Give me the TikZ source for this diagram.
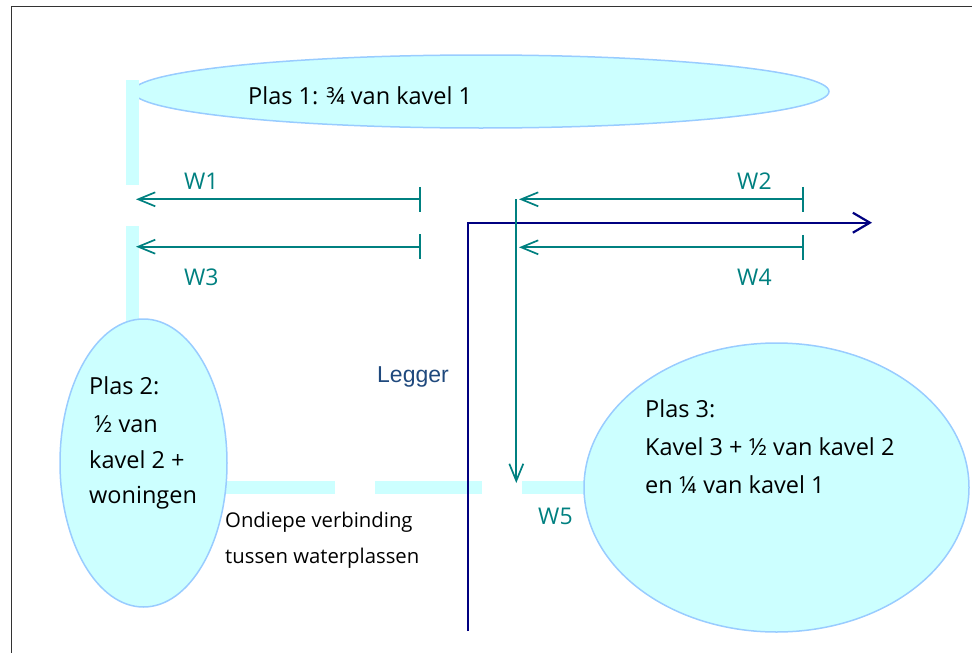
\documentclass[tikz,border=0pt]{standalone}
\usepackage{fontspec}
\setmainfont{Open Sans}
\newfontfamily\leggerfont{Liberation Sans}
\usetikzlibrary{shapes.geometric,arrows.meta}
\definecolor{lakefill}{RGB}{204,255,255}
\definecolor{lakeline}{RGB}{153,204,255}
\definecolor{tealc}{RGB}{0,128,128}
\definecolor{navyc}{RGB}{0,0,128}
\definecolor{leggerc}{RGB}{31,73,125}
\definecolor{framec}{RGB}{51,51,51}
\tikzset{
  lake/.style={ellipse, fill=lakefill, draw=lakeline, line width=1.5pt, inner sep=0pt},
  bar/.style={fill=lakefill, draw=none},
  txt/.style={anchor=base west, inner sep=0pt, font=\fontsize{23.5}{28}\selectfont},
  smalltxt/.style={anchor=base west, inner sep=0pt, font=\fontsize{20.3}{24}\selectfont},
  wlabel/.style={anchor=base west, inner sep=0pt, text=tealc, font=\fontsize{23}{27}\selectfont},
  measure/.style={draw=tealc, line width=1.7pt, {Bar[width=25pt,line width=1.7pt]}-{Straight Barb[length=17pt,width=14pt,line width=1.7pt]}},
  downarr/.style={draw=tealc, line width=1.7pt, -{Straight Barb[length=17pt,width=14pt,line width=1.7pt]}},
  legger/.style={draw=navyc, line width=2.2pt, -{Straight Barb[length=17pt,width=20pt,line width=2.2pt]}}
}
\begin{document}
\begin{tikzpicture}[x=1pt,y=-1pt]
\useasboundingbox (0,0) rectangle (972,653);
% frame
\coordinate (fbl) at (11.5,653);
\coordinate (ftl) at (11.5,6.5);
\coordinate (ftr) at (972,6.5);
\draw[framec, line width=1pt] (fbl) -- (ftl) -- (ftr);
% Plas 1
\node[lake, minimum width=696pt, minimum height=73pt] (p1) at (481,91.5) {};
\node[txt] (p1t) at (248,104.3) {Plas 1: ¾ van kavel 1};
% vertical bars
\fill[bar] (126,80) rectangle (139,185);
\fill[bar] (126,226) rectangle (139,322);
% horizontal bars
\fill[bar] (200,481) rectangle (335,494);
\fill[bar] (375,481) rectangle (481.7,494);
\fill[bar] (521.7,481) rectangle (600,494);
% Plas 2
\node[lake, minimum width=167pt, minimum height=288pt] (p2) at (143.5,463) {};
\node[txt] (p2a) at (89,394) {Plas 2:};
\node[txt] (p2b) at (94,432) {½ van};
\node[txt] (p2c) at (89,468) {kavel 2 +};
\node[txt] (p2d) at (89,503) {woningen};
% Plas 3
\node[lake, minimum width=385pt, minimum height=289pt] (p3) at (776.5,487.5) {};
\node[txt] (p3a) at (645,417) {Plas 3:};
\node[txt] (p3b) at (645,455) {Kavel 3 + ½ van kavel 2};
\node[txt] (p3c) at (645,493) {en ¼ van kavel 1};
% shallow connection text
\node[smalltxt] (ond1) at (225,527) {Ondiepe verbinding};
\node[smalltxt] (ond2) at (225,563) {tussen waterplassen};
% legger
\coordinate (lg0) at (467.7,631);
\coordinate (lg1) at (872,222.7);
\draw[legger] (lg0) |- (lg1);
\node[anchor=base west, inner sep=0pt, text=leggerc, font=\leggerfont\fontsize{23}{27}\selectfont] (lgt) at (377,382) {Legger};
% measurement arrows
\coordinate (w1s) at (421,199.3);
\coordinate (w1e) at (136,199.3);
\coordinate (w3s) at (421,246.7);
\coordinate (w3e) at (136,246.7);
\coordinate (w2s) at (804,199.3);
\coordinate (w2e) at (519,199.3);
\coordinate (w4s) at (804,247.3);
\coordinate (w4e) at (519,247.3);
\coordinate (w5s) at (516.3,199.3);
\coordinate (w5e) at (516.3,483);
\draw[measure] (w1s) -- (w1e);
\draw[measure] (w3s) -- (w3e);
\draw[measure] (w2s) -- (w2e);
\draw[measure] (w4s) -- (w4e);
\draw[downarr] (w5s) -- (w5e);
\node[wlabel] (l1) at (184,189) {W1};
\node[wlabel] (l3) at (184,285) {W3};
\node[wlabel] (l2) at (737,189.5) {W2};
\node[wlabel] (l4) at (737,285) {W4};
\node[wlabel] (l5) at (538,524) {W5};
\end{tikzpicture}
\end{document}
